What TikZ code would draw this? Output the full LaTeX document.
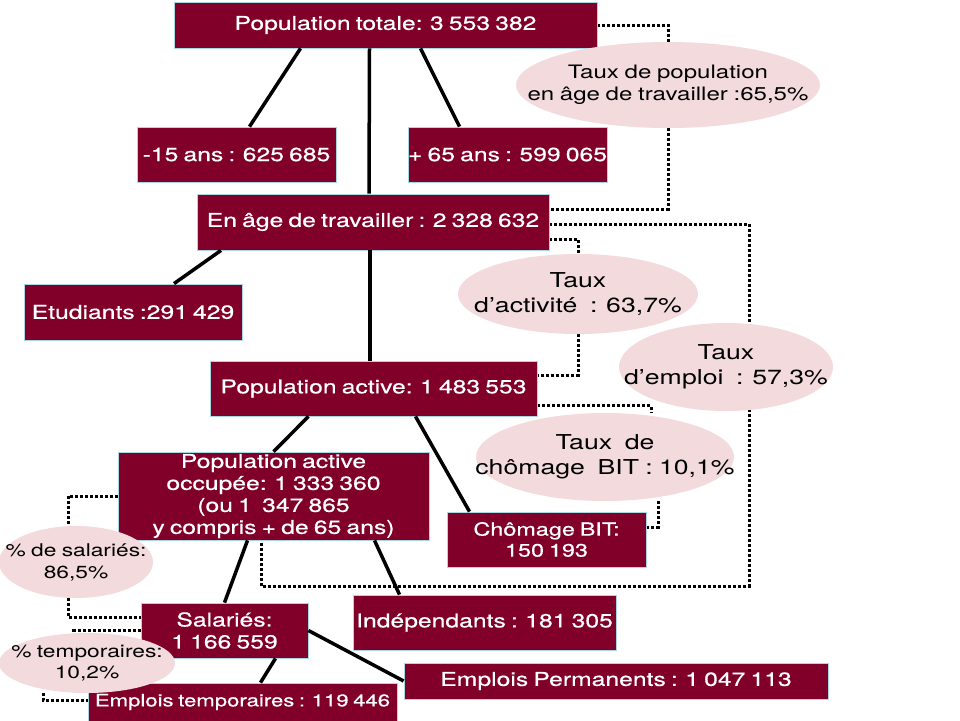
\documentclass[tikz,border=0pt]{standalone}
\usepackage{fontspec}
\newfontfamily\helv[FakeStretch=1.3, WordSpace=0.75, FakeBold=0.6]{TeX Gyre Heros}
\newfontfamily\helvn[FakeStretch=1.3, WordSpace=0.85]{TeX Gyre Heros}
\usepackage{xcolor}
\usetikzlibrary{calc,backgrounds,shapes.geometric}
\definecolor{bordeaux}{RGB}{128,0,42}
\definecolor{rosepale}{RGB}{242,218,221}
\definecolor{bordbleu}{RGB}{170,215,225}

\begin{document}
\begin{tikzpicture}[x=1pt,y=-1pt,
    box/.style={fill=bordeaux, draw=bordbleu, line width=0.8pt, text=white, inner sep=0pt, align=center, font=\helv\fontsize{19}{22}\selectfont},
    taux/.style={ellipse, fill=rosepale, inner xsep=-40pt, inner ysep=0pt, align=center, font=\helvn\fontsize{20.5}{25}\selectfont},
    link/.style={line width=3.5pt},
    pointille/.style={line width=3pt, dash pattern=on 3pt off 2pt}]
    \useasboundingbox (0,0) rectangle (960,720);

    % Population boxes
    \node[box, minimum width=423, minimum height=46] (tot) at (385.5,25) {Population totale: 3 553 382};
    \node[box, minimum width=199, minimum height=55] (moins15) at (236.5,154.5) {-15 ans : 625 685};
    \node[box, minimum width=199, minimum height=55] (plus65) at (507.5,154.5) {+ 65 ans : 599 065};
    \node[box, minimum width=352, minimum height=56] (age) at (373,222) {En âge de travailler : 2 328 632};
    \node[box, minimum width=218, minimum height=56] (etud) at (133,312) {Etudiants :291 429};
    \node[box, minimum width=327, minimum height=55] (actif) at (373.5,388.5) {Population active: 1 483 553};
    \node[box, minimum width=311, minimum height=88] (occ) at (273.5,496) {Population active\\ occupée: 1 333 360\\ (ou 1\ \ 347 865\\ y compris + de 65 ans)};
    \node[box, minimum width=199, minimum height=55, font=\helv\fontsize{18}{21}\selectfont] (chom) at (546.5,539.5) {Chômage BIT:\\150 193};
    \node[box, minimum width=263, minimum height=55] (indep) at (484.5,622.5) {Indépendants : 181 305};
    \node[box, minimum width=167, minimum height=55] (sal) at (224.5,630.5) {Salariés:\\1 166 559};
    \node[box, minimum width=309, minimum height=38, font=\helv\fontsize{17}{20}\selectfont] (temp) at (242.5,702) {Emplois temporaires : 119 446};
    \node[box, minimum width=424, minimum height=36] (perm) at (616,681) {Emplois Permanents : 1 047 113};

    % Rates
    \node[taux, minimum width=304, minimum height=86, font=\helvn\fontsize{18.5}{22}\selectfont] (txpop) at (668,85) {Taux de population\\ en âge de travailler :65,5\%};
    \node[taux, minimum width=240, minimum height=80] (txact) at (578,294) {Taux\\ d’activité~ : 63,7\%};
    \node[taux, minimum width=258, minimum height=88] (txcho) at (605,457) {Taux~ de\\ chômage~ BIT : 10,1\%};
    \node[taux, minimum width=154, minimum height=72, font=\helvn\fontsize{17.5}{22}\selectfont] (txsal) at (76,562) {\% de salariés:\\ 86,5\%};
    \node[taux, minimum width=176, minimum height=60, font=\helvn\fontsize{17.5}{21}\selectfont] (txtemp) at (87,663) {\% temporaires:\\ 10,2\%};

    % Dotted links, behind the boxes
    \begin{pgfonlayer}{background}
    \fill[white] (0,0) rectangle (960,720);
    \draw[pointille] (tot.east) -| (txpop.north);
    \draw[pointille] (txpop.south) |- ($(age.east)+(0,-13)$);
    \draw[pointille] ($(age.east)+(0,17)$) -| (txact.north);
    \draw[pointille] (txact.south) |- ($(actif.east)+(0,-13)$);
    \coordinate (coin) at (749,586);
    \draw[pointille] ($(age.east)+(0,2)$) -| (coin) -| ($(occ.south)+(-12.5,0)$);
    \draw[pointille] ($(actif.east)+(0,17)$) -| ($(txcho.north)+(46,0)$);
    \draw[pointille] ($(txcho.south)+(53,0)$) |- ($(chom.east)+(0,-12)$);
    \draw[pointille] (occ.west) -| ($(txsal.north)+(-8,0)$);
    \draw[pointille] ($(txsal.south)+(-8,0)$) |- ($(sal.west)+(0,-13.5)$);
    \draw[pointille] (sal.west) -| ($(txtemp.north)+(-14,0)$);
    \draw[pointille] ($(txtemp.south)+(-44,0)$) |- ($(temp.west)+(0,-2)$);
    \end{pgfonlayer}

    % Employment rate, over its dotted link
    \node[taux, minimum width=214, minimum height=88] (txemp) at (726,367) {Taux\\ d’emploi~ : 57,3\%};

    % Solid links
    \draw[link] ($(tot.south)+(-85,0)$) -- ($(moins15.north)+(13,0)$);
    \draw[link] ($(tot.south)+(-16,0)$) -- ($(age.north)+(-4,0)$);
    \draw[link] ($(tot.south)+(35,0)$) -- ($(plus65.north)+(-48,0)$);
    \draw[link] ($(age.south)+(-152,0)$) -- ($(etud.north)+(41,0)$);
    \draw[link] ($(age.south)+(-3,0)$) -- ($(actif.north)+(-3.5,0)$);
    \draw[link] ($(actif.south)+(-65,0)$) -- (occ.north);
    \draw[link] ($(actif.south)+(42,0)$) -- ($(chom.north)+(-77,0)$);
    \draw[link] ($(occ.south)+(-26,0)$) -- (sal.north);
    \draw[link] ($(occ.south)+(101,0)$) -- ($(indep.north)+(-85,0)$);
    \draw[link] ($(sal.south)+(51,0)$) -- ($(temp.north)+(18,0)$);
    \draw[link] (sal.east) -- (perm.west);

\end{tikzpicture}
\end{document}
